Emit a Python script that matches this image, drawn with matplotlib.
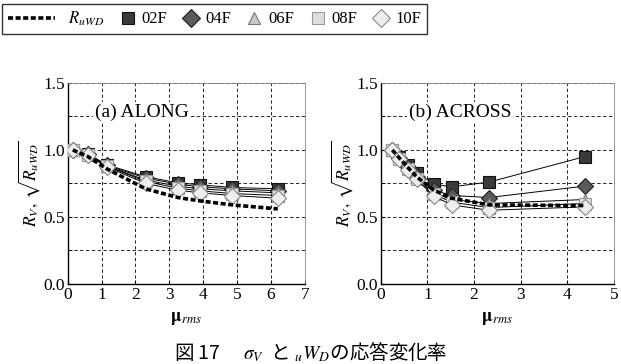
import matplotlib
matplotlib.use("Agg")
import matplotlib.pyplot as plt
from matplotlib.lines import Line2D
from matplotlib.legend_handler import HandlerLine2D

plt.rcParams["font.family"] = ["Liberation Serif", "DejaVu Serif"]
plt.rcParams["mathtext.fontset"] = "stix"

SERIES = ["02F", "04F", "06F", "08F", "10F"]

x_along = [0.15, 0.6, 1.15, 2.3, 3.25, 3.9, 4.85, 6.2]
along_ruwd = [1.0, 0.95, 0.86, 0.71, 0.645, 0.62, 0.59, 0.56]
along_02F = [1.0, 0.97, 0.89, 0.80, 0.755, 0.74, 0.72, 0.71]
along_04F = [1.0, 0.97, 0.885, 0.79, 0.745, 0.725, 0.71, 0.695]
along_06F = [1.0, 0.965, 0.88, 0.775, 0.73, 0.71, 0.695, 0.68]
along_08F = [1.0, 0.96, 0.88, 0.765, 0.715, 0.695, 0.675, 0.66]
along_10F = [1.0, 0.96, 0.875, 0.75, 0.70, 0.68, 0.66, 0.64]

x_across = [0.25, 0.4, 0.58, 0.77, 1.14, 1.52, 2.32, 4.37]
across_ruwd = [1.0, 0.94, 0.87, 0.80, 0.70, 0.64, 0.59, 0.585]
across_02F = [1.0, 0.95, 0.89, 0.83, 0.745, 0.725, 0.76, 0.95]
across_04F = [1.0, 0.94, 0.87, 0.80, 0.70, 0.66, 0.645, 0.73]
across_06F = [1.0, 0.94, 0.86, 0.79, 0.68, 0.63, 0.60, 0.63]
across_08F = [1.0, 0.93, 0.86, 0.78, 0.67, 0.61, 0.57, 0.60]
across_10F = [1.0, 0.93, 0.85, 0.78, 0.655, 0.59, 0.55, 0.575]

# marker, face, edge
STYLE = {
    "02F": ("s", "#3a3a3a", "#111111"),
    "04F": ("D", "#5a5a5a", "#222222"),
    "06F": ("^", "#c8c8c8", "#777777"),
    "08F": ("s", "#dddddd", "#999999"),
    "10F": ("D", "#eeeeee", "#888888"),
}
DASH = (0, (1.4, 0.7))


class WideLine(HandlerLine2D):
    """dashed handle drawn wider than the marker handles"""
    def create_artists(self, legend, orig_handle, xdescent, ydescent,
                       width, height, fontsize, trans):
        return super().create_artists(legend, orig_handle, xdescent, ydescent,
                                      width * 2.6, height, fontsize, trans)


fig = plt.figure(figsize=(6.21, 3.64), dpi=100)
ax1 = fig.add_axes([0.109, 0.22, 0.382, 0.552])
ax2 = fig.add_axes([0.613, 0.22, 0.3757, 0.552])

panels = [
    (ax1, x_along, along_ruwd, [along_02F, along_04F, along_06F, along_08F, along_10F],
     7, "(a) ALONG", 0.8),
    (ax2, x_across, across_ruwd, [across_02F, across_04F, across_06F, across_08F, across_10F],
     5, "(b) ACROSS", 0.6),
]

for ax, xs, ruwd, ys, xmax, title, tx in panels:
    for name, y in zip(SERIES, ys):
        m, fc, ec = STYLE[name]
        ax.plot(xs, y, color="black", lw=0.7, marker=m, ms=8 if m != "^" else 9,
                mfc=fc, mec=ec, mew=0.8, zorder=3)
    ax.plot(xs, ruwd, color="black", lw=2.6, ls=DASH, zorder=4)
    ax.set_xlim(0, xmax)
    ax.set_ylim(0, 1.5)
    ax.set_xticks(range(0, xmax + 1))
    ax.set_yticks([0, 0.5, 1.0, 1.5])
    ax.set_yticks([0.25, 0.75, 1.25], minor=True)
    ax.yaxis.set_major_formatter(matplotlib.ticker.FormatStrFormatter("%.1f"))
    ax.tick_params(direction="in", labelsize=12.5, length=3, pad=2)
    ax.tick_params(which="minor", direction="in", length=3)
    ax.grid(True, which="both", color="black", ls=(0, (4, 3)), lw=0.6)
    for s in ["top", "right"]:
        ax.spines[s].set_color("#888888")
        ax.spines[s].set_linewidth(0.6)
    for s in ["left", "bottom"]:
        ax.spines[s].set_linewidth(1.0)
    ax.text(tx, 1.28, title, fontsize=14, va="center", ha="left",
            bbox=dict(facecolor="white", edgecolor="none", pad=1), zorder=5)
    ax.set_xlabel(r"$\mathbf{\mu}_{rms}$", fontsize=13, labelpad=5)
    ax.set_ylabel(r"$R_V,\,\sqrt{R_{uWD}}$", fontsize=12.5, labelpad=1)

ruwd_handle = Line2D([], [], color="black", lw=2.6, ls=DASH)
handles = [ruwd_handle]
labels = ["         " + r"$R_{uWD}$"]
for name in SERIES:
    m, fc, ec = STYLE[name]
    handles.append(Line2D([], [], ls="none", marker=m, ms=9, mfc=fc, mec=ec, mew=0.8))
    labels.append(name)
leg = fig.legend(handles, labels, loc="upper left", bbox_to_anchor=(0.003, 0.99),
                 borderaxespad=0, ncol=6, fontsize=12, frameon=True, fancybox=False,
                 handlelength=1.1, handletextpad=0.3, columnspacing=0.85, borderpad=0.35,
                 handler_map={ruwd_handle: WideLine()})
leg.get_frame().set_edgecolor("black")
leg.get_frame().set_linewidth(1.0)

fig.text(0.5, 0.033, r"図 17　 $\sigma_V$  と ${}_uW_D$の応答変化率", ha="center", va="center",
         fontsize=14, family=["Noto Sans CJK JP", "DejaVu Sans"])

fig.savefig("out.png", dpi=100)
